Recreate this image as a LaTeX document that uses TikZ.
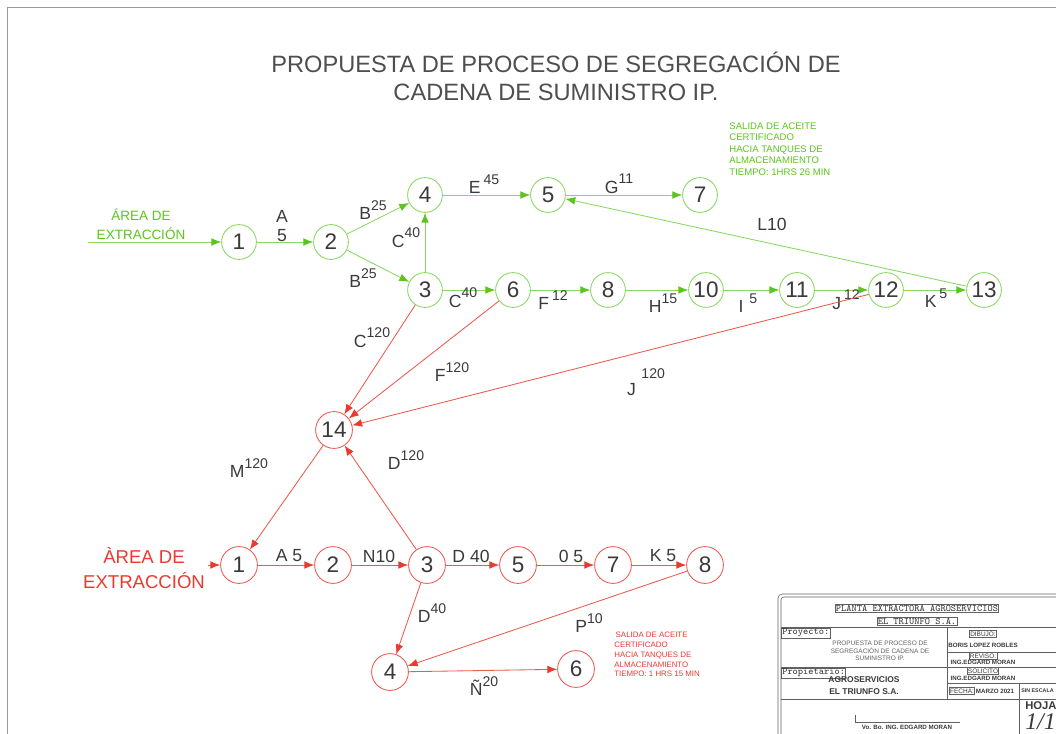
\documentclass[tikz,border=0pt]{standalone}
\usepackage{fontspec}
\setmainfont{Liberation Sans}
\newfontfamily\serifit{Liberation Serif}
\usetikzlibrary{arrows.meta}
\definecolor{verde}{HTML}{5CC41F}
\definecolor{verdeclaro}{HTML}{86D95E}
\definecolor{rojo}{HTML}{EA3A30}
\definecolor{gris}{HTML}{3A3A3A}
\definecolor{marco}{HTML}{9A9A9A}
\newcommand{\act}[2]{#1\raisebox{0.55em}{\fontsize{10}{10}\selectfont #2}}
\begin{document}
\begin{tikzpicture}[x=0.025cm,y=-0.025cm,line width=0.6pt,
green node/.style={circle,draw=verdeclaro,minimum size=0.87cm,inner sep=0pt,text=gris,font=\fontsize{16}{16}\selectfont},
red node/.style={circle,draw=rojo!85,minimum size=0.92cm,inner sep=0pt,text=gris,font=\fontsize{16}{16}\selectfont},
lbl/.style={text=gris,inner sep=0pt,font=\fontsize{12.5}{12.5}\selectfont},
note/.style={align=left,anchor=north west,inner sep=0pt}]
\useasboundingbox (0,0) rectangle (1056,734);
\clip (0,0) rectangle (1056,734);
\fill[white] (0,0) rectangle (1056,734);
\draw[marco] (1070,7) -- (7,7) -- (7,745);
\node[text=gris!90,align=center,font=\fontsize{16.8}{20}\selectfont] (titulo) at (556,76) {PROPUESTA DE PROCESO DE SEGREGACIÓN DE\\CADENA DE SUMINISTRO IP.};
% proceso actual (verde)
\begin{scope}[every node/.style={green node}]
\node (g1) at (239,242) {1};%1
\node (g2) at (331,242) {2};%2
\node (g3) at (425,290) {3};%3
\node (g4) at (425,195) {4};%4
\node (g5) at (548,195) {5};%5
\node (g6) at (513,290) {6};%6
\node (g7) at (700,195) {7};%7
\node (g8) at (608,290) {8};%8
\node (g10) at (706,290) {10};%10
\node (g11) at (797,290) {11};%11
\node (g12) at (886,290) {12};%12
\node (g13) at (984,290) {13};%13
\end{scope}
\coordinate (gin) at (88,242);
\begin{scope}[every edge/.style={draw=verdeclaro,-{Latex[length=7pt,width=5.5pt,color=verde]}}]
\draw (gin) edge (g1);
\draw (g1) edge (g2);
\draw (g2) edge (g4);
\draw (g2) edge (g3);
\draw (g3) edge (g4);
\draw (g4) edge (g5);
\draw (g5) edge (g7);
\draw (g3) edge (g6);
\draw (g6) edge (g8);
\draw (g8) edge (g10);
\draw (g10) edge (g11);
\draw (g11) edge (g12);
\draw (g12) edge (g13);
\draw (g13) edge (g5);
\end{scope}
\begin{scope}[every node/.style={lbl}]
\node[text=verde,align=center,font=\fontsize{9.6}{13.5}\selectfont] (areaV) at (141,224) {ÁREA DE\\EXTRACCIÓN};
\node[align=center,font=\fontsize{12.5}{13.5}\selectfont] (gA) at (282,226) {A\\5};
\node (gB1) at (373,210) {\act{B}{25}};
\node (gB2) at (363,278) {\act{B}{25}};
\node (gC1) at (406,238) {\act{C}{40}};
\node (gE) at (484,184) {\act{E\,}{45}};
\node (gG) at (619,184) {\act{G}{11}};
\node (gL) at (772,224) {L10};
\node (gC2) at (463,298) {\act{C}{40}};
\node (gF) at (553,300) {\act{F\,}{12}};
\node (gH) at (663,303) {\act{H}{15}};
\node (gI) at (748,303) {\act{I\,\,}{5}};
\node (gJ) at (846,300) {\act{J\,}{12}};
\node (gK) at (936,298) {\act{K\,}{5}};
\end{scope}
\node[note,text=verde,font=\fontsize{6.8}{8.2}\selectfont] (notaV) at (729,122) {SALIDA DE ACEITE\\CERTIFICADO\\HACIA TANQUES DE\\ALMACENAMIENTO\\TIEMPO: 1HRS 26 MIN};
% propuesta (rojo)
\begin{scope}[every node/.style={red node}]
\node (r14) at (334,430) {14};%14
\node (r1) at (239,565) {1};%1
\node (r2) at (333,565) {2};%2
\node (r3) at (427,565) {3};%3
\node (r5) at (518,565) {5};%5
\node (r7) at (613,565) {7};%7
\node (r8) at (705,565) {8};%8
\node (r4) at (390,672) {4};%4
\node (r6) at (576,669) {6};%6
\end{scope}
\coordinate (rin) at (208,565);
\begin{scope}[every edge/.style={draw=rojo!85,-{Latex[length=7pt,width=5.5pt,color=rojo]}}]
\draw (g3) edge (r14);
\draw (g6) edge (r14);
\draw (g12) edge (r14);
\draw (r14) edge (r1);
\draw (r3) edge (r14);
\draw (rin) edge (r1);
\draw (r1) edge (r2);
\draw (r2) edge (r3);
\draw (r3) edge (r5);
\draw (r5) edge (r7);
\draw (r7) edge (r8);
\draw (r3) edge (r4);
\draw (r8) edge (r4);
\draw (r4) edge (r6);
\end{scope}
\begin{scope}[every node/.style={lbl}]
\node[text=rojo,align=center,font=\fontsize{13.2}{18}\selectfont] (areaR) at (144,568) {ÀREA DE\\EXTRACCIÓN};
\node (rC) at (372,338) {\act{C}{120}};
\node (rF) at (452,372) {\act{F}{120}};
\node (rJ) at (646,382) {J\hspace{4pt}\raisebox{0.95em}{\fontsize{10}{10}\selectfont 120}};
\node (rM) at (249,468) {\act{M}{120}};
\node (rD1) at (406,460) {\act{D}{120}};
\node (rA) at (289,556) {A 5};
\node (rN) at (379,556) {N10};
\node (rD2) at (471,556) {D 40};
\node (rO) at (571,556) {0 5};
\node (rK) at (663,556) {K 5};
\node (rD3) at (432,613) {\act{D}{40}};
\node (rP) at (589,623) {\act{P}{10}};
\node (rN2) at (484,686) {\act{Ñ}{20}};
\end{scope}
\node[note,text=rojo,font=\fontsize{5.6}{6.9}\selectfont] (notaR) at (614,632) {\,SALIDA DE ACEITE\\CERTIFICADO\\HACIA TANQUES DE\\ALMACENAMIENTO\\TIEMPO: 1 HRS 15 MIN};
% rotulo
\begin{scope}[draw=gris!80,line width=0.4pt]
\draw[rounded corners=3] (1070,594) -- (778,594) -- (778,745);
\draw[rounded corners=2] (1070,597) -- (781,597) -- (781,745);
\draw (781,627) -- (1070,627);
\draw (781,667) -- (947,667);
\draw (781,699) -- (1070,699);
\draw (947,627) -- (947,699);
\draw (947,652) -- (1070,652);
\draw (947,667) -- (1070,667);
\draw (947,683) -- (1070,683);
\draw (1019,683) -- (1019,745);
\draw (855,715) -- (855,722) -- (960,722);
\end{scope}
\begin{scope}[every node/.style={text=gris,inner sep=0.6pt,font=\fontsize{4.6}{5.4}\selectfont}]
\node[draw=gris!80,font=\ttfamily\fontsize{7}{7}\selectfont] (planta) at (917,608) {PLANTA EXTRACTORA AGROSERVICIOS};
\node[draw=gris!80,font=\ttfamily\fontsize{7}{7}\selectfont] (triunfo) at (917,621) {EL TRIUNFO S.A.};
\node[draw=gris!80,anchor=west,font=\ttfamily\fontsize{7}{7}\selectfont] (proyecto) at (781,633) {Proyecto:};
\node[align=center,text=gris!80] (proyT) at (880,651) {PROPUESTA DE PROCESO DE\\SEGREGACIÓN DE CADENA DE\\SUMINISTRO IP.};
\node[draw=gris!80,anchor=west,font=\ttfamily\fontsize{7}{7}\selectfont] (propietario) at (781,673) {Propietario:};
\node[align=center,font=\bfseries\fontsize{6}{8.5}\selectfont] (agro) at (864,686) {AGROSERVICIOS\\EL TRIUNFO S.A.};
\node[draw=gris!80] (dibujo) at (983,634) {DIBUJO:};
\node[font=\bfseries\fontsize{4.4}{5}\selectfont] (boris) at (983,645) {BORIS LOPEZ ROBLES};
\node[draw=gris!80] (reviso) at (983,656) {REVISO:};
\node[font=\bfseries\fontsize{4.4}{5}\selectfont] (ing1) at (983,662) {ING.EDGARD MORAN};
\node[draw=gris!80] (solicito) at (983,671) {SOLICITO};
\node[font=\bfseries\fontsize{4.4}{5}\selectfont] (ing2) at (983,678) {ING.EDGARD MORAN};
\node[draw=gris!80] (fecha) at (962,691) {FECHA:};
\node[font=\bfseries\fontsize{4.4}{5}\selectfont] (marzo) at (995,691) {MARZO 2021};
\node[anchor=west,font=\bfseries\fontsize{3.8}{5}\selectfont] (escala) at (1020,691) {SIN ESCALA};
\node[anchor=west,font=\bfseries\fontsize{8}{8}\selectfont] (hoja) at (1024,706) {HOJA};
\node[anchor=west,font=\serifit\itshape\fontsize{17}{17}\selectfont] (num) at (1024,722) {1/1};
\node[font=\bfseries\fontsize{4.4}{5}\selectfont] (vobo) at (907,727) {Vo. Bo. ING. EDGARD MORAN};
\end{scope}
\end{tikzpicture}
\end{document}
